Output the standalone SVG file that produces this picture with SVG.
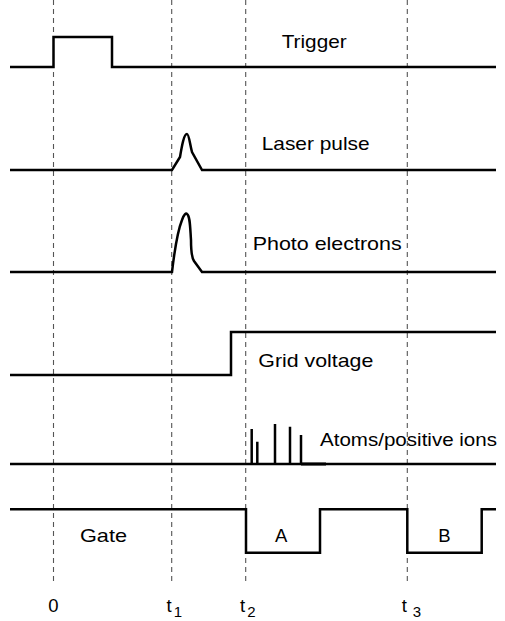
<svg xmlns="http://www.w3.org/2000/svg" width="505" height="621" viewBox="0 0 505 621">
<style>
.sig{fill:none;stroke:#000;stroke-width:2.5;stroke-linejoin:miter}
.dash{fill:none;stroke:#555;stroke-width:1.1;stroke-dasharray:5,4}
text{font-family:"Liberation Sans",Arial,sans-serif;fill:#000}
.lbl{font-size:18.5px}
.sub{font-size:15px}
</style>
<rect width="505" height="621" fill="#fff"/>
<g id="guides">
<line class="dash" x1="53.5" y1="0" x2="53.5" y2="583"/>
<line class="dash" x1="171.7" y1="0" x2="171.7" y2="583"/>
<line class="dash" x1="245.7" y1="0" x2="245.7" y2="583"/>
<line class="dash" x1="407.3" y1="0" x2="407.3" y2="583"/>
</g>
<g id="trigger">
<path class="sig" d="M10,67 H53.5 V37 H112 V67 H496"/>
<text class="lbl" x="281.7" y="48" textLength="65" lengthAdjust="spacingAndGlyphs">Trigger</text>
</g>
<g id="laser">
<path class="sig" d="M10,170 H172 L180,157 C182,145 184,134 187,134 C189,134 190,145 192,152 L202,170 H496"/>
<text class="lbl" x="261.7" y="150" textLength="108" lengthAdjust="spacingAndGlyphs">Laser pulse</text>
</g>
<g id="photo">
<path class="sig" d="M10,272 H172 C174,255 178,230 182,220 C184,214 186,213 187,214 C190,216 190,225 191,240 C191,250 192,258 194,261 L202,272 H496"/>
<text class="lbl" x="252.7" y="250" textLength="149" lengthAdjust="spacingAndGlyphs">Photo electrons</text>
</g>
<g id="grid">
<path class="sig" d="M10,375 H231 V332 H496"/>
<text class="lbl" x="258.3" y="367" textLength="115" lengthAdjust="spacingAndGlyphs">Grid voltage</text>
</g>
<g id="atoms">
<path class="sig" d="M10,464 H496"/>
<path class="sig" d="M251.7,464 V429 M257.3,464 V441.7 M275,464 V424 M290,464 V426.7 M301,464 V435"/>
<line x1="301" y1="464" x2="326" y2="464" stroke="#000" stroke-width="3"/>
<text class="lbl" x="320" y="446" textLength="177" lengthAdjust="spacingAndGlyphs">Atoms/positive ions</text>
</g>
<g id="gate">
<path class="sig" d="M10,509.3 H246 V552.7 H320 V509.3 H407.3 V552.7 H481.7 V509.3 H496"/>
<text class="lbl" x="80" y="542" textLength="47" lengthAdjust="spacingAndGlyphs">Gate</text>
<text class="lbl" x="275" y="542">A</text>
<text class="lbl" x="438.3" y="542">B</text>
</g>
<g id="axis">
<text class="lbl" x="48.3" y="612">0</text>
<text class="lbl" x="166.5" y="612">t<tspan class="sub" dx="2" dy="5">1</tspan></text>
<text class="lbl" x="240" y="612">t<tspan class="sub" dx="2" dy="5">2</tspan></text>
<text class="lbl" x="401.7" y="612">t<tspan class="sub" dx="6" dy="5">3</tspan></text>
</g>
</svg>
